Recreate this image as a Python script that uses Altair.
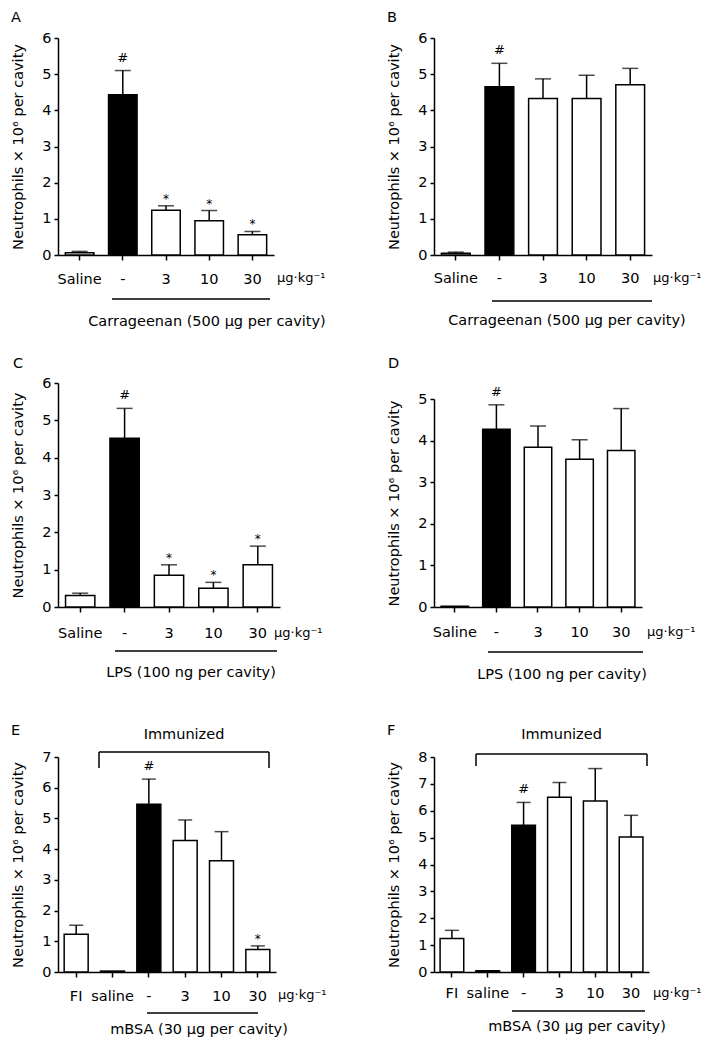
import altair as alt
import pandas as pd

FONT = "DejaVu Sans"
FS = 14.5
YTITLE = "Neutrophils × 10⁶ per cavity"
UNIT = "μg·kg⁻¹"

# ---- data -------------------------------------------------------------
a_cats = ["Saline", "-", "3", "10", "30"]
a_mean = [0.06, 4.43, 1.24, 0.95, 0.56]
a_err = [0.04, 0.67, 0.12, 0.28, 0.09]
a_sig = ["", "#", "*", "*", "*"]

b_cats = ["Saline", "-", "3", "10", "30"]
b_mean = [0.05, 4.65, 4.33, 4.33, 4.71]
b_err = [0.03, 0.65, 0.54, 0.64, 0.45]
b_sig = ["", "#", "", "", ""]

c_cats = ["Saline", "-", "3", "10", "30"]
c_mean = [0.31, 4.52, 0.85, 0.50, 1.13]
c_err = [0.06, 0.80, 0.28, 0.16, 0.50]
c_sig = ["", "#", "*", "*", "*"]

d_cats = ["Saline", "-", "3", "10", "30"]
d_mean = [0.02, 4.27, 3.84, 3.55, 3.76]
d_err = [0.0, 0.59, 0.51, 0.47, 1.01]
d_sig = ["", "#", "", "", ""]

e_cats = ["FI", "saline", "-", "3", "10", "30"]
e_mean = [1.23, 0.03, 5.46, 4.28, 3.62, 0.73]
e_err = [0.29, 0.0, 0.82, 0.67, 0.95, 0.12]
e_sig = ["", "", "#", "", "", "*"]

f_cats = ["FI", "saline", "-", "3", "10", "30"]
f_mean = [1.25, 0.05, 5.46, 6.50, 6.36, 5.02]
f_err = [0.30, 0.0, 0.85, 0.55, 1.21, 0.81]
f_sig = ["", "", "#", "", "", ""]

captions = ["Carrageenan (500 μg per cavity)", "Carrageenan (500 μg per cavity)",
            "LPS (100 ng per cavity)", "LPS (100 ng per cavity)",
            "mBSA (30 μg per cavity)", "mBSA (30 μg per cavity)"]
letters = ["A", "B", "C", "D", "E", "F"]


def panel(letter, cats, mean, err, sig, ymax, w, h, top, lab_pad, unit_x, unit_dy,
          line_x, line_dy, cap_x, cap_dy, cap_w, letter_x, letter_y, bracket=None):
    df = pd.DataFrame({
        "cat": cats, "mean": mean, "err": err,
        "top": [m + e for m, e in zip(mean, err)],
        "sig": sig,
        "fill": ["black" if c == "-" else "white" for c in cats],
    })
    xaxis = alt.Axis(title=None, labelAngle=0, tickSize=5, labelPadding=lab_pad,
                     domainWidth=1.5, tickWidth=1.5, domainColor="black",
                     tickColor="black", labelColor="black", labelFont=FONT,
                     labelFontSize=FS, grid=False)
    xscale = alt.Scale(paddingInner=0.34, paddingOuter=0.17)
    yscale = alt.Scale(domain=[0, ymax], range=[h, top], nice=False, zero=True)
    yaxis = alt.Axis(title=YTITLE, values=list(range(ymax + 1)), format="d",
                     tickSize=4, labelPadding=3, domainWidth=1.5, tickWidth=1.5,
                     domainColor="black", tickColor="black", labelColor="black",
                     labelFont=FONT, labelFontSize=FS, titleFont=FONT,
                     titleFontSize=FS, titleFontWeight="normal", titleColor="black",
                     titlePadding=16.5, grid=False, labelOverlap=False)

    def X():
        return alt.X("cat:N", sort=cats, scale=xscale, axis=xaxis)

    def Y(field):
        return alt.Y(field, scale=yscale, axis=yaxis)

    base = alt.Chart(df)
    bars = base.mark_bar(stroke="black", strokeWidth=1.5).encode(
        x=X(), y=Y("mean:Q"), fill=alt.Fill("fill:N", scale=None))
    whisk = base.transform_filter("datum.err > 0").mark_rule(
        color="black", strokeWidth=1.5).encode(x=X(), y=Y("mean:Q"), y2="top:Q")
    capm = base.transform_filter("datum.err > 0").mark_tick(
        color="black", thickness=1.5, size=cap_w).encode(x=X(), y=Y("top:Q"))
    hashm = base.transform_filter("datum.sig == '#'").mark_text(
        font=FONT, fontSize=13, baseline="alphabetic", dy=-9, color="black").encode(
        x=X(), y=Y("top:Q"), text="sig:N")
    star = base.transform_filter("datum.sig == '*'").mark_text(
        font=FONT, fontSize=12, baseline="alphabetic", dy=-3, color="black").encode(
        x=X(), y=Y("top:Q"), text="sig:N")

    one = alt.Chart(alt.Data(values=[{"k": 1}]))
    unit = one.mark_text(font=FONT, fontSize=13, align="left", baseline="middle",
                         color="black").encode(
        x=alt.value(unit_x), y=alt.value(h + unit_dy), text=alt.value(UNIT))
    uline = one.mark_rule(color="black", strokeWidth=1.5).encode(
        x=alt.value(line_x[0]), x2=alt.value(line_x[1]), y=alt.value(h + line_dy))
    cap = one.mark_text(font=FONT, fontSize=FS, align="center", baseline="middle",
                        color="black").encode(
        x=alt.value(cap_x), y=alt.value(h + cap_dy),
        text=alt.value(captions[letters.index(letter)]))
    lab = one.mark_text(font=FONT, fontSize=FS, align="left", baseline="alphabetic",
                        color="black").encode(
        x=alt.value(letter_x), y=alt.value(letter_y), text=alt.value(letter))
    layers = [bars, whisk, capm, hashm, star, unit, uline, cap, lab]
    if bracket is not None:
        bx0, bx1, by0, by1 = bracket
        layers.append(one.mark_rule(color="black", strokeWidth=1.5).encode(
            x=alt.value(bx0), x2=alt.value(bx1), y=alt.value(by0)))
        layers.append(one.mark_rule(color="black", strokeWidth=1.5).encode(
            x=alt.value(bx0), y=alt.value(by0), y2=alt.value(by1)))
        layers.append(one.mark_rule(color="black", strokeWidth=1.5).encode(
            x=alt.value(bx1), y=alt.value(by0), y2=alt.value(by1)))
        layers.append(one.mark_text(font=FONT, fontSize=FS, align="center",
                                    baseline="middle", color="black").encode(
            x=alt.value((bx0 + bx1) / 2), y=alt.value(0), text=alt.value("Immunized")))
    return alt.layer(*layers).properties(width=w, height=h)


pA = panel("A", a_cats, a_mean, a_err, a_sig, 6, 216, 217, 0, 12, 219, 23,
           (54, 212), 44, 149, 67, 16, -47, -16)
pB = panel("B", b_cats, b_mean, b_err, b_sig, 6, 218, 217, 0, 11, 219, 23,
           (58, 218), 46, 133, 66, 16, -47, -16)
pC = panel("C", c_cats, c_mean, c_err, c_sig, 6, 222, 224, 0, 14, 216, 26,
           (57, 219), 44, 133, 66, 16, -45, -15)
pD = panel("D", d_cats, d_mean, d_err, d_sig, 5, 208, 224, 16, 13, 213, 25,
           (54, 209), 45, 128, 68, 16, -46, -15)
pE = panel("E", e_cats, e_mean, e_err, e_sig, 7, 218, 237, 22, 12, 220, 23,
           (89, 200), 41, 141, 58, 14, -47, 0, bracket=(41, 211, 17, 33))
pF = panel("F", f_cats, f_mean, f_err, f_sig, 8, 215, 237, 22, 9, 219, 21,
           (78, 211), 39, 143, 55, 14, -47, 0, bracket=(42, 213, 19, 31))

chart = alt.concat(pA, pB, pC, pD, pE, pF, columns=2,
                   spacing={"row": 128, "column": 154}).properties(
    bounds="flush", align="each",
    autosize=alt.AutoSizeParams(type="none"),
    padding={"left": 50, "top": 30, "right": 643, "bottom": 999},
).configure_view(stroke=None)

chart.save("out.html", embed_options={"renderer": "svg", "actions": False})
